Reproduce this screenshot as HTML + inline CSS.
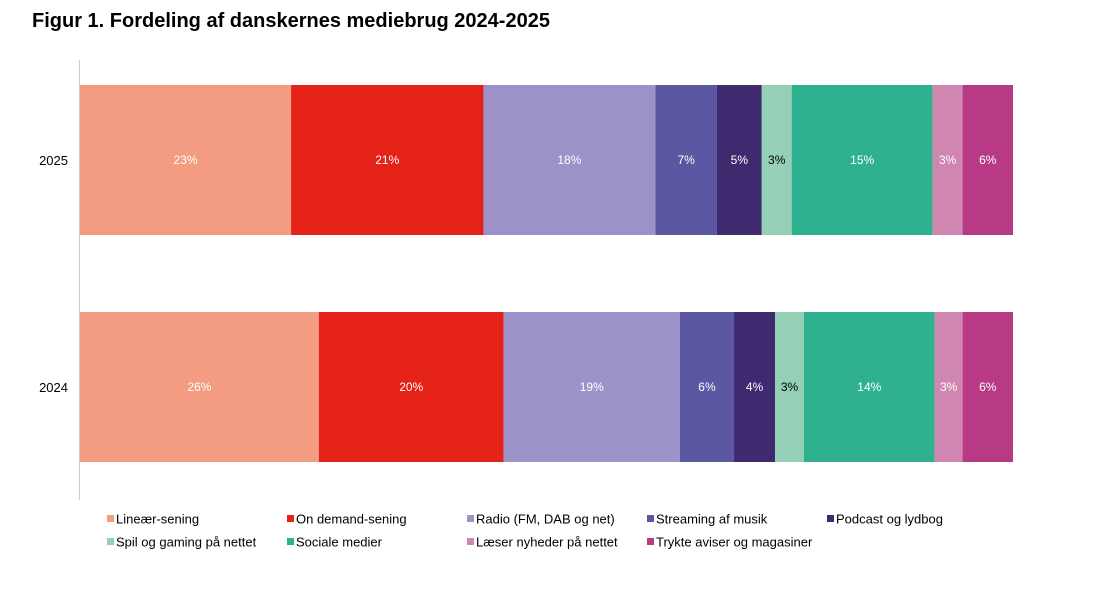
<!DOCTYPE html>
<html><head><meta charset="utf-8"><style>
body{margin:0;background:#fff;font-family:"Liberation Sans",sans-serif;}
#wrap{position:relative;width:1102px;height:594px;overflow:hidden;}
h1{position:absolute;left:32px;top:10px;margin:0;font-size:20px;font-weight:bold;color:#000;}
</style></head><body>
<div id="wrap">
<h1>Figur 1. Fordeling af danskernes mediebrug 2024-2025</h1>
<svg id="chart" width="1102" height="594" style="position:absolute;left:0;top:0"></svg>
</div>
<script>
const categories=["Lineær-sening","On demand-sening","Radio (FM, DAB og net)","Streaming af musik","Podcast og lydbog","Spil og gaming på nettet","Sociale medier","Læser nyheder på nettet","Trykte aviser og magasiner"];
const years=["2025","2024"];
const values2025=[22.6,20.6,18.4,6.6,4.8,3.2,15.1,3.2,5.4];
const values2024=[25.6,19.8,18.9,5.8,4.4,3.1,14.0,3.0,5.4];
const labels2025=["23%","21%","18%","7%","5%","3%","15%","3%","6%"];
const labels2024=["26%","20%","19%","6%","4%","3%","14%","3%","6%"];
const colors=["#F39C82","#E42217","#9D93C8","#5C57A3","#3E2A6E","#95CFB5","#2FB18F","#CF86B0","#B93A84"];
const textColors=["#fff","#fff","#fff","#fff","#fff","#000","#fff","#fff","#fff"];
const NS="http://www.w3.org/2000/svg";
const svg=document.getElementById("chart");
const x0=80,x1=1013;
const rows=[{y:85,vals:values2025,labs:labels2025},{y:312,vals:values2024,labs:labels2024}];
const barH=150;
function mk(t,a){const e=document.createElementNS(NS,t);for(const k in a)e.setAttribute(k,a[k]);svg.appendChild(e);return e;}
const axis=mk("line",{x1:79.5,x2:79.5,y1:60,y2:500,stroke:"#ccc","stroke-width":1});


rows.forEach((r,ri)=>{
  const total=r.vals.reduce((a,b)=>a+b,0);
  const xs=v=>x0+(x1-x0)*v/total;
  let acc=0;
  r.vals.forEach((v,i)=>{
    const xa=xs(acc),xb=xs(acc+v);acc+=v;
    const rect=mk("rect",{x:xa,y:r.y,width:xb-xa,height:barH,fill:colors[i]});
    
    
    const t=mk("text",{x:(xa+xb)/2,y:r.y+barH/2+4,"text-anchor":"middle","font-size":"12",fill:textColors[i]});
    t.textContent=r.labs[i];
    
    
  });
  const yl=mk("text",{x:68,y:r.y+barH/2+5,"text-anchor":"end","font-size":"13",fill:"#000"});
  yl.textContent=years[ri];
  
  
});
categories.forEach((c,i)=>{
  const col=i<5?i:i-5,row=i<5?0:1;
  const lx=107+col*180,ly=519+row*23;
  const g=document.createElementNS(NS,"g");svg.appendChild(g);
  
  
  const s=document.createElementNS(NS,"rect");
  s.setAttribute("x",lx);s.setAttribute("y",ly-4);s.setAttribute("width",7);s.setAttribute("height",7);s.setAttribute("fill",colors[i]);
  g.appendChild(s);
  const t=document.createElementNS(NS,"text");
  t.setAttribute("x",lx+9);t.setAttribute("y",ly+4.5);t.setAttribute("font-size","13");t.setAttribute("fill","#000");
  t.textContent=c;g.appendChild(t);
});
</script>
</body></html>
